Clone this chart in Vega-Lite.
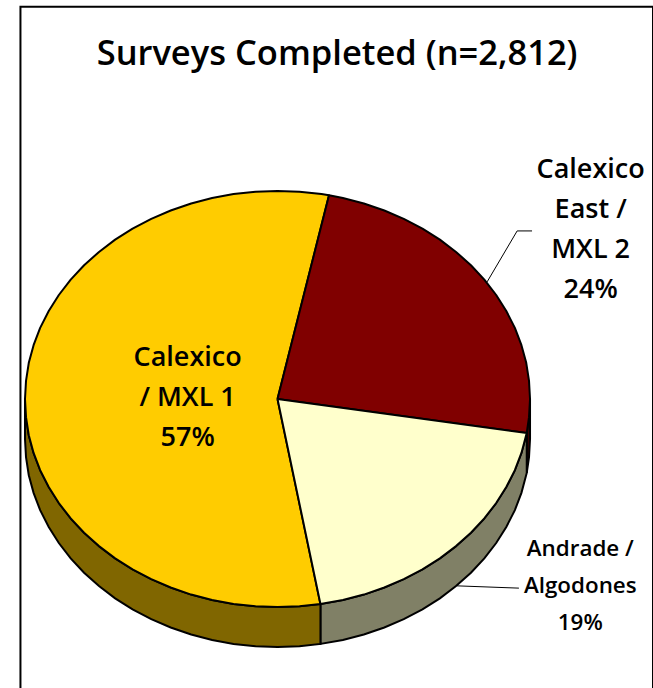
{"$schema":"https://vega.github.io/schema/vega-lite/v6.json","width":653,"height":688,"autosize":{"type":"none"},"padding":0,"background":"white","config":{"view":{"stroke":null},"axis":{"disable":true}},
"datasets":{
"walls":[
{"s":"Red side","x":98.7,"y":-16.3,"y2":-35.5},{"s":"Red side","x":99.6,"y":-8.7,"y2":-27.9},{"s":"Red side","x":100,"y":0,"y2":-19.2},
{"s":"Pale side","x":17,"y":-98.5,"y2":-117.7},{"s":"Pale side","x":25.9,"y":-96.6,"y2":-115.8},{"s":"Pale side","x":34.2,"y":-94,"y2":-113.2},{"s":"Pale side","x":42.3,"y":-90.6,"y2":-109.8},{"s":"Pale side","x":50,"y":-86.6,"y2":-105.8},{"s":"Pale side","x":57.4,"y":-81.9,"y2":-101.1},{"s":"Pale side","x":64.3,"y":-76.6,"y2":-95.8},{"s":"Pale side","x":70.7,"y":-70.7,"y2":-89.9},{"s":"Pale side","x":76.6,"y":-64.3,"y2":-83.5},{"s":"Pale side","x":81.9,"y":-57.4,"y2":-76.6},{"s":"Pale side","x":86.6,"y":-50,"y2":-69.2},{"s":"Pale side","x":90.6,"y":-42.3,"y2":-61.5},{"s":"Pale side","x":94,"y":-34.2,"y2":-53.4},{"s":"Pale side","x":96.6,"y":-25.9,"y2":-45.1},{"s":"Pale side","x":98.7,"y":-16.3,"y2":-35.5},
{"s":"Gold side","x":-100,"y":0,"y2":-19.2},{"s":"Gold side","x":-99.6,"y":-8.7,"y2":-27.9},{"s":"Gold side","x":-98.5,"y":-17.4,"y2":-36.6},{"s":"Gold side","x":-96.6,"y":-25.9,"y2":-45.1},{"s":"Gold side","x":-94,"y":-34.2,"y2":-53.4},{"s":"Gold side","x":-90.6,"y":-42.3,"y2":-61.5},{"s":"Gold side","x":-86.6,"y":-50,"y2":-69.2},{"s":"Gold side","x":-81.9,"y":-57.4,"y2":-76.6},{"s":"Gold side","x":-76.6,"y":-64.3,"y2":-83.5},{"s":"Gold side","x":-70.7,"y":-70.7,"y2":-89.9},{"s":"Gold side","x":-64.3,"y":-76.6,"y2":-95.8},{"s":"Gold side","x":-57.4,"y":-81.9,"y2":-101.1},{"s":"Gold side","x":-50,"y":-86.6,"y2":-105.8},{"s":"Gold side","x":-42.3,"y":-90.6,"y2":-109.8},{"s":"Gold side","x":-34.2,"y":-94,"y2":-113.2},{"s":"Gold side","x":-25.9,"y":-96.6,"y2":-115.8},{"s":"Gold side","x":-17.4,"y":-98.5,"y2":-117.7},{"s":"Gold side","x":-8.7,"y":-99.6,"y2":-118.8},{"s":"Gold side","x":0,"y":-100,"y2":-119.2},{"s":"Gold side","x":8.7,"y":-99.6,"y2":-118.8},{"s":"Gold side","x":17,"y":-98.5,"y2":-117.7}
],
"tops":[
{"s":"Calexico / MXL 1","i":0,"x":0,"y":0},{"s":"Calexico / MXL 1","i":1,"x":20.4,"y":97.9},{"s":"Calexico / MXL 1","i":2,"x":17.4,"y":98.5},{"s":"Calexico / MXL 1","i":3,"x":8.7,"y":99.6},{"s":"Calexico / MXL 1","i":4,"x":0,"y":100},{"s":"Calexico / MXL 1","i":5,"x":-8.7,"y":99.6},{"s":"Calexico / MXL 1","i":6,"x":-17.4,"y":98.5},{"s":"Calexico / MXL 1","i":7,"x":-25.9,"y":96.6},{"s":"Calexico / MXL 1","i":8,"x":-34.2,"y":94},{"s":"Calexico / MXL 1","i":9,"x":-42.3,"y":90.6},{"s":"Calexico / MXL 1","i":10,"x":-50,"y":86.6},{"s":"Calexico / MXL 1","i":11,"x":-57.4,"y":81.9},{"s":"Calexico / MXL 1","i":12,"x":-64.3,"y":76.6},{"s":"Calexico / MXL 1","i":13,"x":-70.7,"y":70.7},{"s":"Calexico / MXL 1","i":14,"x":-76.6,"y":64.3},{"s":"Calexico / MXL 1","i":15,"x":-81.9,"y":57.4},{"s":"Calexico / MXL 1","i":16,"x":-86.6,"y":50},{"s":"Calexico / MXL 1","i":17,"x":-90.6,"y":42.3},{"s":"Calexico / MXL 1","i":18,"x":-94,"y":34.2},{"s":"Calexico / MXL 1","i":19,"x":-96.6,"y":25.9},{"s":"Calexico / MXL 1","i":20,"x":-98.5,"y":17.4},{"s":"Calexico / MXL 1","i":21,"x":-99.6,"y":8.7},{"s":"Calexico / MXL 1","i":22,"x":-100,"y":0},{"s":"Calexico / MXL 1","i":23,"x":-99.6,"y":-8.7},{"s":"Calexico / MXL 1","i":24,"x":-98.5,"y":-17.4},{"s":"Calexico / MXL 1","i":25,"x":-96.6,"y":-25.9},{"s":"Calexico / MXL 1","i":26,"x":-94,"y":-34.2},{"s":"Calexico / MXL 1","i":27,"x":-90.6,"y":-42.3},{"s":"Calexico / MXL 1","i":28,"x":-86.6,"y":-50},{"s":"Calexico / MXL 1","i":29,"x":-81.9,"y":-57.4},{"s":"Calexico / MXL 1","i":30,"x":-76.6,"y":-64.3},{"s":"Calexico / MXL 1","i":31,"x":-70.7,"y":-70.7},{"s":"Calexico / MXL 1","i":32,"x":-64.3,"y":-76.6},{"s":"Calexico / MXL 1","i":33,"x":-57.4,"y":-81.9},{"s":"Calexico / MXL 1","i":34,"x":-50,"y":-86.6},{"s":"Calexico / MXL 1","i":35,"x":-42.3,"y":-90.6},{"s":"Calexico / MXL 1","i":36,"x":-34.2,"y":-94},{"s":"Calexico / MXL 1","i":37,"x":-25.9,"y":-96.6},{"s":"Calexico / MXL 1","i":38,"x":-17.4,"y":-98.5},{"s":"Calexico / MXL 1","i":39,"x":-8.7,"y":-99.6},{"s":"Calexico / MXL 1","i":40,"x":0,"y":-100},{"s":"Calexico / MXL 1","i":41,"x":8.7,"y":-99.6},{"s":"Calexico / MXL 1","i":42,"x":17,"y":-98.5},{"s":"Calexico / MXL 1","i":43,"x":0,"y":0},
{"s":"Calexico East / MXL 2","i":0,"x":0,"y":0},{"s":"Calexico East / MXL 2","i":1,"x":98.7,"y":-16.3},{"s":"Calexico East / MXL 2","i":2,"x":99.6,"y":-8.7},{"s":"Calexico East / MXL 2","i":3,"x":100,"y":0},{"s":"Calexico East / MXL 2","i":4,"x":99.6,"y":8.7},{"s":"Calexico East / MXL 2","i":5,"x":98.5,"y":17.4},{"s":"Calexico East / MXL 2","i":6,"x":96.6,"y":25.9},{"s":"Calexico East / MXL 2","i":7,"x":94,"y":34.2},{"s":"Calexico East / MXL 2","i":8,"x":90.6,"y":42.3},{"s":"Calexico East / MXL 2","i":9,"x":86.6,"y":50},{"s":"Calexico East / MXL 2","i":10,"x":81.9,"y":57.4},{"s":"Calexico East / MXL 2","i":11,"x":76.6,"y":64.3},{"s":"Calexico East / MXL 2","i":12,"x":70.7,"y":70.7},{"s":"Calexico East / MXL 2","i":13,"x":64.3,"y":76.6},{"s":"Calexico East / MXL 2","i":14,"x":57.4,"y":81.9},{"s":"Calexico East / MXL 2","i":15,"x":50,"y":86.6},{"s":"Calexico East / MXL 2","i":16,"x":42.3,"y":90.6},{"s":"Calexico East / MXL 2","i":17,"x":34.2,"y":94},{"s":"Calexico East / MXL 2","i":18,"x":25.9,"y":96.6},{"s":"Calexico East / MXL 2","i":19,"x":20.4,"y":97.9},{"s":"Calexico East / MXL 2","i":20,"x":0,"y":0},
{"s":"Andrade / Algodones","i":0,"x":0,"y":0},{"s":"Andrade / Algodones","i":1,"x":17,"y":-98.5},{"s":"Andrade / Algodones","i":2,"x":25.9,"y":-96.6},{"s":"Andrade / Algodones","i":3,"x":34.2,"y":-94},{"s":"Andrade / Algodones","i":4,"x":42.3,"y":-90.6},{"s":"Andrade / Algodones","i":5,"x":50,"y":-86.6},{"s":"Andrade / Algodones","i":6,"x":57.4,"y":-81.9},{"s":"Andrade / Algodones","i":7,"x":64.3,"y":-76.6},{"s":"Andrade / Algodones","i":8,"x":70.7,"y":-70.7},{"s":"Andrade / Algodones","i":9,"x":76.6,"y":-64.3},{"s":"Andrade / Algodones","i":10,"x":81.9,"y":-57.4},{"s":"Andrade / Algodones","i":11,"x":86.6,"y":-50},{"s":"Andrade / Algodones","i":12,"x":90.6,"y":-42.3},{"s":"Andrade / Algodones","i":13,"x":94,"y":-34.2},{"s":"Andrade / Algodones","i":14,"x":96.6,"y":-25.9},{"s":"Andrade / Algodones","i":15,"x":98.7,"y":-16.3},{"s":"Andrade / Algodones","i":16,"x":0,"y":0}
],
"leaders":[
{"s":"east","i":0,"x":83,"y":56.3},{"s":"east","i":1,"x":94.9,"y":80.8},{"s":"east","i":2,"x":100.8,"y":80.8},
{"s":"andrade","i":0,"x":71.1,"y":-89.8},{"s":"andrade","i":1,"x":95.6,"y":-90.9}
]},
"layer":[
{"data":{"values":[{"x":-101.8,"x2":148.7,"y":188.5,"y2":-141}]},"mark":{"type":"rect","fill":"white","stroke":"black","strokeWidth":2},
"encoding":{"x":{"field":"x","type":"quantitative","scale":{"domain":[-109.9,148.7],"nice":false,"zero":false},"axis":null},"x2":{"field":"x2"},"y":{"field":"y","type":"quantitative","scale":{"domain":[-138.9,191.8],"nice":false,"zero":false},"axis":null},"y2":{"field":"y2"}}},
{"data":{"name":"walls"},"mark":{"type":"area","stroke":"black","strokeWidth":2},
"encoding":{"x":{"field":"x","type":"quantitative"},"y":{"field":"y","type":"quantitative"},"y2":{"field":"y2"},"color":{"field":"s","type":"nominal","legend":null,"scale":{"domain":["Calexico / MXL 1","Calexico East / MXL 2","Andrade / Algodones","Gold side","Red side","Pale side"],"range":["#FFCC00","#800000","#FFFFCC","#806600","#400000","#808066"]}}}},
{"data":{"name":"tops"},"mark":{"type":"line","filled":true,"stroke":"black","strokeWidth":2,"strokeJoin":"round"},
"encoding":{"x":{"field":"x","type":"quantitative"},"y":{"field":"y","type":"quantitative"},"order":{"field":"i","type":"quantitative"},"color":{"field":"s","type":"nominal","legend":null}}},
{"data":{"name":"leaders"},"mark":{"type":"line","color":"black","strokeWidth":1},
"encoding":{"x":{"field":"x","type":"quantitative"},"y":{"field":"y","type":"quantitative"},"order":{"field":"i","type":"quantitative"},"detail":{"field":"s"}}},
{"data":{"values":[{"t":"Surveys Completed (n=2,812)","x":23.6,"y":160.6}]},"mark":{"type":"text","font":"Open Sans","fontWeight":600,"fontSize":34.5,"align":"center","baseline":"alphabetic","color":"black"},
"encoding":{"x":{"field":"x","type":"quantitative"},"y":{"field":"y","type":"quantitative"},"text":{"field":"t"}}},
{"data":{"values":[{"t":["Calexico","/ MXL 1","57%"],"x":-35.6,"y":15.9},{"t":["Calexico","East /","MXL 2","24%"],"x":124,"y":106.3}]},"mark":{"type":"text","font":"Open Sans","fontWeight":600,"fontSize":27,"lineHeight":40,"align":"center","baseline":"alphabetic","color":"black"},
"encoding":{"x":{"field":"x","type":"quantitative"},"y":{"field":"y","type":"quantitative"},"text":{"field":"t"}}},
{"data":{"values":[{"t":["Andrade /","Algodones","19%"],"x":119.9,"y":-75.5}]},"mark":{"type":"text","font":"Open Sans","fontWeight":600,"fontSize":22.4,"lineHeight":37,"align":"center","baseline":"alphabetic","color":"black"},
"encoding":{"x":{"field":"x","type":"quantitative"},"y":{"field":"y","type":"quantitative"},"text":{"field":"t"}}}
]}
